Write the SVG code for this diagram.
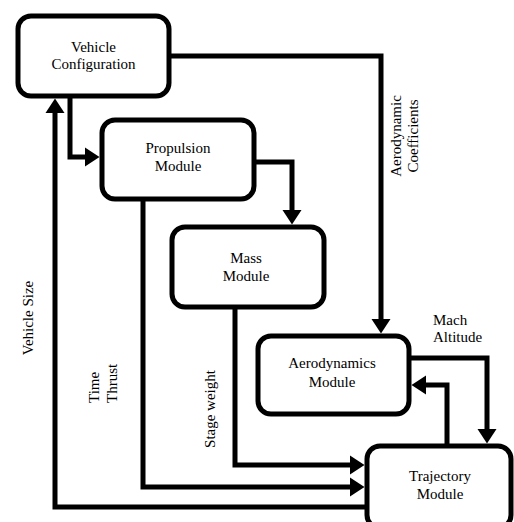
<svg xmlns="http://www.w3.org/2000/svg" width="514" height="522" viewBox="0 0 514 522">
<style>
.box{fill:#fff;stroke:#000;stroke-width:5}
.t{font-family:"Liberation Serif","Times New Roman",serif;font-size:15px;fill:#000}
.c{text-anchor:middle}
.ln{fill:none;stroke:#000;stroke-width:5;stroke-linejoin:miter}
</style>
<defs>
<marker id="ah" markerUnits="userSpaceOnUse" markerWidth="15" markerHeight="19" refX="0" refY="9.5" orient="auto" overflow="visible">
<path d="M0,0 L14.5,9.5 L0,19 z" fill="#000"/>
</marker>
</defs>
<rect width="514" height="522" fill="#fff"/>
<g id="connectors">
<path class="ln" d="M169,56 H381 V319" marker-end="url(#ah)"/>
<path class="ln" d="M70,96 V157 H85" marker-end="url(#ah)"/>
<path class="ln" d="M254,162 H292 V210" marker-end="url(#ah)"/>
<path class="ln" d="M235,307 V465 H350" marker-end="url(#ah)"/>
<path class="ln" d="M143,199 V487 H350" marker-end="url(#ah)"/>
<path class="ln" d="M367,507 H55 V113" marker-end="url(#ah)"/>
<path class="ln" d="M409,358 H487 V429" marker-end="url(#ah)"/>
<path class="ln" d="M447,446 V385 H426" marker-end="url(#ah)"/>
</g>
<g id="vehicle-config">
<rect class="box" x="18" y="16" width="151" height="80" rx="13"/>
<text class="t c" x="93.5" y="52">Vehicle</text>
<text class="t c" x="93.5" y="69">Configuration</text>
</g>
<g id="propulsion">
<rect class="box" x="102" y="120" width="152" height="79" rx="13"/>
<text class="t c" x="178" y="153">Propulsion</text>
<text class="t c" x="178" y="171">Module</text>
</g>
<g id="mass">
<rect class="box" x="172" y="227" width="152" height="80" rx="13"/>
<text class="t c" x="246" y="263">Mass</text>
<text class="t c" x="246" y="281">Module</text>
</g>
<g id="aerodynamics">
<rect class="box" x="258" y="336" width="151" height="78" rx="13"/>
<text class="t c" x="332" y="368">Aerodynamics</text>
<text class="t c" x="332" y="387">Module</text>
</g>
<g id="trajectory">
<rect class="box" x="367" y="446" width="144" height="82" rx="13"/>
<text class="t c" x="440" y="481">Trajectory</text>
<text class="t c" x="440" y="499">Module</text>
</g>
<g id="labels">
<text class="t c" transform="translate(401,136) rotate(-90)">Aerodynamic</text>
<text class="t c" transform="translate(418,136) rotate(-90)">Coefficients</text>
<text class="t c" transform="translate(33,318) rotate(-90)">Vehicle Size</text>
<text class="t" transform="translate(99,403) rotate(-90)">Time</text>
<text class="t" transform="translate(117,403) rotate(-90)">Thrust</text>
<text class="t c" transform="translate(215,409) rotate(-90)">Stage weight</text>
<text class="t" x="433" y="325">Mach</text>
<text class="t" x="433" y="342">Altitude</text>
</g>
</svg>
